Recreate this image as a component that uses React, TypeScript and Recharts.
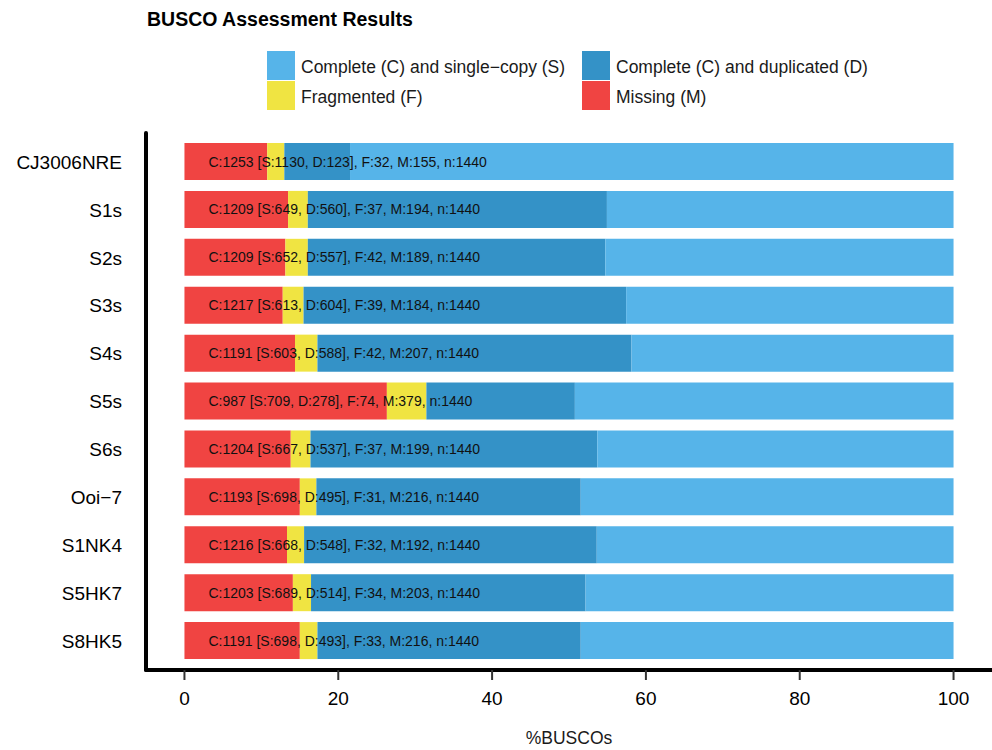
import React from 'react';
import { BarChart, Bar, XAxis, YAxis, Legend, LabelList } from 'recharts';

// BUSCO counts per assembly (n = 1440)
const samples = ['CJ3006NRE', 'S1s', 'S2s', 'S3s', 'S4s', 'S5s', 'S6s', 'Ooi\u22127', 'S1NK4', 'S5HK7', 'S8HK5'];
const singleCopy = [1130, 649, 652, 613, 603, 709, 667, 698, 668, 689, 698];
const duplicated = [123, 560, 557, 604, 588, 278, 537, 495, 548, 514, 493];
const fragmented = [32, 37, 42, 39, 42, 74, 37, 31, 32, 34, 33];
const missing = [155, 194, 189, 184, 207, 379, 199, 216, 192, 203, 216];
const total = 1440;
const xTicks = [0, 20, 40, 60, 80, 100];

const COLORS = {
  S: '#56B4E9',
  D: '#3492C7',
  F: '#F0E442',
  M: '#F04442'
};

const legendItems = [
  { key: 'S', label: 'Complete (C) and single\u2212copy (S)' },
  { key: 'D', label: 'Complete (C) and duplicated (D)' },
  { key: 'F', label: 'Fragmented (F)' },
  { key: 'M', label: 'Missing (M)' }
];

const pct = (v: number) => (v / total) * 100;

const data = samples.map((name, i) => ({
  name,
  M: pct(missing[i]),
  F: pct(fragmented[i]),
  D: pct(duplicated[i]),
  S: pct(singleCopy[i]),
  label: `C:${singleCopy[i] + duplicated[i]} [S:${singleCopy[i]}, D:${duplicated[i]}], F:${fragmented[i]}, M:${missing[i]}, n:${total}`
}));

const FONT = '"Liberation Sans", Arial, Helvetica, sans-serif';

const renderLegend = () => (
  <div
    style={{
      display: 'grid',
      gridTemplateColumns: '315px 320px',
      rowGap: 1,
      fontFamily: FONT,
      fontSize: 17.5,
      color: '#1a1a1a'
    }}
  >
    {legendItems.map((item) => (
      <div key={item.key} style={{ display: 'flex', alignItems: 'center', height: 29 }}>
        <div style={{ width: 28, height: 29, background: COLORS[item.key as keyof typeof COLORS], marginRight: 6 }} />
        <span style={{ paddingTop: 4 }}>{item.label}</span>
      </div>
    ))}
  </div>
);

// text sits inside the bar row, starting a bit right of the 0 line
const renderBarText = (props: any) => {
  const { x, y, height, value } = props;
  return (
    <text
      x={x + 24}
      y={y + height / 2}
      dominantBaseline="central"
      fontSize={14}
      fontFamily={FONT}
      fill="#111"
    >
      {value}
    </text>
  );
};

export default function App() {
  return (
    <div style={{ position: 'absolute', left: 0, top: 0, width: 992, height: 750, background: '#fff' }}>
      <div
        style={{
          position: 'absolute',
          left: 147,
          top: 8,
          fontFamily: FONT,
          fontWeight: 'bold',
          fontSize: 19.5,
          color: '#000'
        }}
      >
        BUSCO Assessment Results
      </div>
      <BarChart
        width={992}
        height={750}
        data={data}
        layout="vertical"
        margin={{ top: 133, right: 0, bottom: 0, left: 0 }}
      >
        <XAxis
          type="number"
          domain={[-5, 105]}
          ticks={xTicks}
          allowDataOverflow
          height={80}
          axisLine={{ stroke: '#000', strokeWidth: 4, strokeLinecap: 'round' }}
          tickLine={{ stroke: '#333', strokeWidth: 2 }}
          tickSize={10}
          tickMargin={12}
          tick={{ fill: '#000', fontSize: 19, fontFamily: FONT }}
          label={{
            value: '%BUSCOs',
            position: 'insideBottom',
            offset: 6,
            fill: '#1a1a1a',
            fontSize: 17.5,
            fontFamily: FONT
          }}
        />
        <YAxis
          type="category"
          dataKey="name"
          width={146}
          padding={{ top: 5, bottom: 5 }}
          axisLine={{ stroke: '#000', strokeWidth: 4, strokeLinecap: 'round' }}
          tickLine={false}
          tickSize={10}
          tickMargin={14}
          tick={{ fill: '#000', fontSize: 19, fontFamily: FONT }}
        />
        <Legend
          layout="horizontal"
          verticalAlign="middle"
          align="center"
          content={renderLegend}
          wrapperStyle={{ position: 'absolute', top: 51, left: 267, width: 640 }}
        />
        <Bar dataKey="M" stackId="busco" fill={COLORS.M} barSize={37} isAnimationActive={false}>
          <LabelList dataKey="label" content={renderBarText} />
        </Bar>
        <Bar dataKey="F" stackId="busco" fill={COLORS.F} barSize={37} isAnimationActive={false} />
        <Bar dataKey="D" stackId="busco" fill={COLORS.D} barSize={37} isAnimationActive={false} />
        <Bar dataKey="S" stackId="busco" fill={COLORS.S} barSize={37} isAnimationActive={false} />
      </BarChart>
    </div>
  );
}
